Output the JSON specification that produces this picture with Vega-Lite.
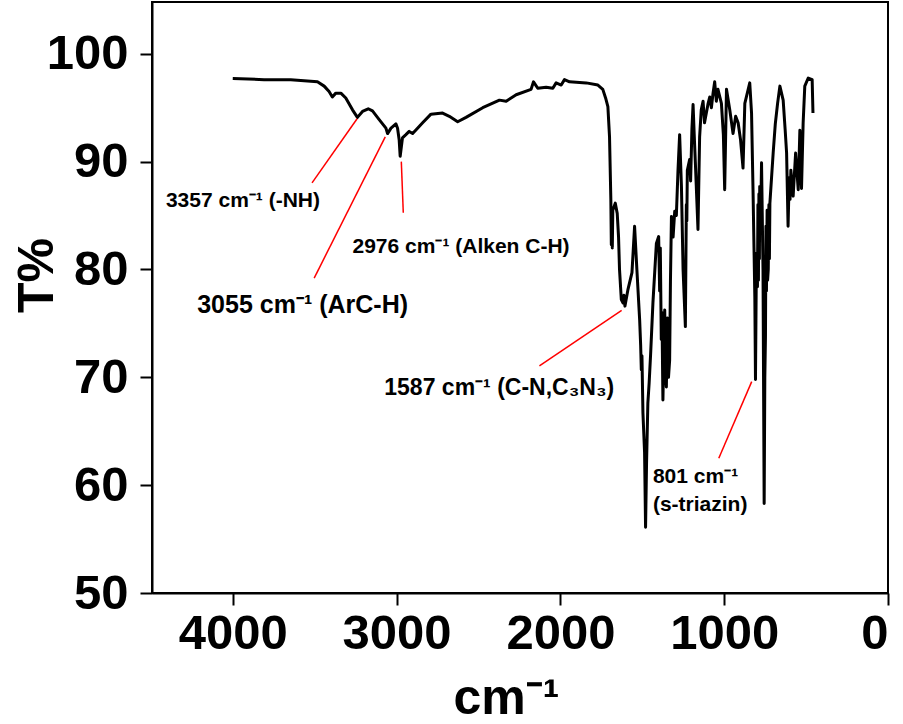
{
  "$schema": "https://vega.github.io/schema/vega-lite/v6.json",
  "width": 736,
  "height": 591,
  "autosize": {"type": "none"},
  "padding": {"left": 152, "top": 2, "right": 15, "bottom": 131},
  "background": "white",
  "config": {
    "view": {"stroke": "black", "strokeWidth": 2},
    "axis": {
      "grid": false,
      "domainColor": "black",
      "domainWidth": 2,
      "tickColor": "black",
      "tickWidth": 2,
      "tickSize": 12,
      "labelFont": "Liberation Sans",
      "labelFontWeight": "bold",
      "labelFontSize": 49,
      "labelColor": "black",
      "titleFont": "Liberation Sans",
      "titleFontWeight": "bold",
      "titleFontSize": 50,
      "titleColor": "black"
    }
  },
  "datasets": {
    "spectrum": [
      {"wn": 4000, "T": 97.7}, {"wn": 3809, "T": 97.6}, {"wn": 3646, "T": 97.6}, {"wn": 3483, "T": 97.4},
      {"wn": 3442, "T": 97.0}, {"wn": 3412, "T": 96.5}, {"wn": 3392, "T": 96.0}, {"wn": 3371, "T": 96.35},
      {"wn": 3340, "T": 96.35}, {"wn": 3310, "T": 95.9}, {"wn": 3269, "T": 94.8}, {"wn": 3239, "T": 94.1},
      {"wn": 3208, "T": 94.65}, {"wn": 3173, "T": 94.9}, {"wn": 3147, "T": 94.7}, {"wn": 3106, "T": 93.9},
      {"wn": 3065, "T": 93.1}, {"wn": 3055, "T": 92.6}, {"wn": 3034, "T": 93.1}, {"wn": 3004, "T": 93.5},
      {"wn": 2994, "T": 93.1}, {"wn": 2984, "T": 92.0}, {"wn": 2978, "T": 90.5}, {"wn": 2964, "T": 92.2},
      {"wn": 2943, "T": 92.5}, {"wn": 2923, "T": 92.8}, {"wn": 2902, "T": 92.6}, {"wn": 2872, "T": 93.1},
      {"wn": 2841, "T": 93.6}, {"wn": 2790, "T": 94.4}, {"wn": 2719, "T": 94.5}, {"wn": 2678, "T": 94.2},
      {"wn": 2627, "T": 93.7}, {"wn": 2576, "T": 94.1}, {"wn": 2474, "T": 95.0}, {"wn": 2372, "T": 95.7},
      {"wn": 2331, "T": 95.6}, {"wn": 2270, "T": 96.2}, {"wn": 2179, "T": 96.7}, {"wn": 2164, "T": 97.4},
      {"wn": 2138, "T": 96.8}, {"wn": 2087, "T": 96.9}, {"wn": 2046, "T": 96.8}, {"wn": 2026, "T": 97.3},
      {"wn": 1995, "T": 97.1}, {"wn": 1975, "T": 97.6}, {"wn": 1944, "T": 97.4}, {"wn": 1842, "T": 97.3},
      {"wn": 1771, "T": 97.1}, {"wn": 1741, "T": 96.7}, {"wn": 1724, "T": 95.9}, {"wn": 1710, "T": 95.1},
      {"wn": 1700, "T": 92.3}, {"wn": 1692, "T": 86.5}, {"wn": 1689, "T": 82.3}, {"wn": 1686, "T": 85.0},
      {"wn": 1683, "T": 82.0}, {"wn": 1680, "T": 85.5},
      {"wn": 1665, "T": 86.15}, {"wn": 1653, "T": 85.2}, {"wn": 1645, "T": 83.05}, {"wn": 1639, "T": 80.0},
      {"wn": 1628, "T": 77.2}, {"wn": 1618, "T": 76.9}, {"wn": 1612, "T": 77.6}, {"wn": 1606, "T": 76.6},
      {"wn": 1588, "T": 78.1}, {"wn": 1563, "T": 79.7},
      {"wn": 1547, "T": 84.0}, {"wn": 1533, "T": 80.0}, {"wn": 1516, "T": 75.3}, {"wn": 1510, "T": 73.0},
      {"wn": 1506, "T": 70.7}, {"wn": 1502, "T": 72.0},
      {"wn": 1496, "T": 66.7}, {"wn": 1490, "T": 64.5}, {"wn": 1486, "T": 63.0}, {"wn": 1480, "T": 56.1},
      {"wn": 1474, "T": 62.0}, {"wn": 1466, "T": 67.6},
      {"wn": 1458, "T": 69.5}, {"wn": 1449, "T": 72.2}, {"wn": 1435, "T": 76.9}, {"wn": 1414, "T": 82.4},
      {"wn": 1400, "T": 83.05}, {"wn": 1394, "T": 78.0}, {"wn": 1390, "T": 82.0}, {"wn": 1384, "T": 73.5},
      {"wn": 1380, "T": 76.0}, {"wn": 1374, "T": 67.9}, {"wn": 1368, "T": 73.0}, {"wn": 1363, "T": 76.25},
      {"wn": 1358, "T": 70.5}, {"wn": 1353, "T": 69.1}, {"wn": 1346, "T": 75.5}, {"wn": 1340, "T": 70.0},
      {"wn": 1333, "T": 71.6}, {"wn": 1328, "T": 79.0}, {"wn": 1322, "T": 84.9}, {"wn": 1312, "T": 83.0},
      {"wn": 1302, "T": 85.4}, {"wn": 1292, "T": 85.0}, {"wn": 1282, "T": 89.2},
      {"wn": 1272, "T": 92.5}, {"wn": 1261, "T": 87.7}, {"wn": 1251, "T": 80.0}, {"wn": 1237, "T": 74.7},
      {"wn": 1231, "T": 86.0}, {"wn": 1228, "T": 84.5},
      {"wn": 1225, "T": 89.2}, {"wn": 1211, "T": 90.2}, {"wn": 1205, "T": 88.2}, {"wn": 1197, "T": 93.0},
      {"wn": 1190, "T": 95.3}, {"wn": 1183, "T": 92.5}, {"wn": 1176, "T": 89.9},
      {"wn": 1160, "T": 83.7}, {"wn": 1150, "T": 92.3}, {"wn": 1140, "T": 94.8}, {"wn": 1129, "T": 95.6},
      {"wn": 1120, "T": 93.6}, {"wn": 1109, "T": 94.5},
      {"wn": 1098, "T": 95.4}, {"wn": 1088, "T": 96.0}, {"wn": 1078, "T": 95.0}, {"wn": 1068, "T": 96.35},
      {"wn": 1058, "T": 97.4}, {"wn": 1048, "T": 95.6}, {"wn": 1038, "T": 96.7},
      {"wn": 1017, "T": 95.4}, {"wn": 1005, "T": 92.5}, {"wn": 997, "T": 87.4}, {"wn": 986, "T": 96.7}, {"wn": 966, "T": 94.8},
      {"wn": 946, "T": 92.6}, {"wn": 930, "T": 94.2}, {"wn": 915, "T": 93.6}, {"wn": 900, "T": 92.0},
      {"wn": 885, "T": 89.4}, {"wn": 874, "T": 95.4},
      {"wn": 844, "T": 97.3}, {"wn": 833, "T": 94.5}, {"wn": 824, "T": 87.4}, {"wn": 818, "T": 82.0},
      {"wn": 813, "T": 77.5},
      {"wn": 809, "T": 69.8}, {"wn": 803, "T": 81.5}, {"wn": 797, "T": 78.4}, {"wn": 794, "T": 86.0},
      {"wn": 791, "T": 79.0}, {"wn": 788, "T": 87.0}, {"wn": 785, "T": 81.0}, {"wn": 783, "T": 87.7},
      {"wn": 778, "T": 84.0}, {"wn": 772, "T": 89.9},
      {"wn": 763, "T": 80.0}, {"wn": 756, "T": 58.3}, {"wn": 752, "T": 70.0}, {"wn": 748, "T": 73.8},
      {"wn": 745, "T": 84.0}, {"wn": 742, "T": 78.0}, {"wn": 738, "T": 85.5}, {"wn": 735, "T": 79.0},
      {"wn": 731, "T": 80.0}, {"wn": 727, "T": 86.0}, {"wn": 724, "T": 81.0},
      {"wn": 721, "T": 86.15}, {"wn": 711, "T": 88.5}, {"wn": 701, "T": 90.8}, {"wn": 688, "T": 93.5}, {"wn": 674, "T": 95.4},
      {"wn": 660, "T": 97.0}, {"wn": 640, "T": 95.7}, {"wn": 628, "T": 93.0}, {"wn": 619, "T": 90.8}, {"wn": 610, "T": 84.0},
      {"wn": 603, "T": 88.5}, {"wn": 598, "T": 86.5},
      {"wn": 593, "T": 89.2}, {"wn": 579, "T": 86.8}, {"wn": 564, "T": 90.8}, {"wn": 548, "T": 87.4},
      {"wn": 538, "T": 92.9}, {"wn": 528, "T": 87.5}, {"wn": 518, "T": 93.6}, {"wn": 508, "T": 97.0},
      {"wn": 487, "T": 97.75}, {"wn": 463, "T": 97.6}, {"wn": 458, "T": 94.5}
    ],
    "leaders": [
      {"peak": "3357", "x": 3241, "y": 93.97, "x2": 3516, "y2": 88.03},
      {"peak": "3055", "x": 3069, "y": 92.3, "x2": 3503, "y2": 79.2},
      {"peak": "2976", "x": 2971, "y": 90.0, "x2": 2959, "y2": 85.25},
      {"peak": "1587", "x": 1626, "y": 76.2, "x2": 2128, "y2": 71.06},
      {"peak": "801", "x": 832, "y": 69.6, "x2": 1033, "y2": 62.5}
    ],
    "labels": [
      {"peak": "3357", "x": 4408, "y": 85.83, "text": "3357 cm⁻¹ (-NH)"},
      {"peak": "2976", "x": 3269, "y": 81.5, "text": "2976 cm⁻¹ (Alken C-H)"},
      {"peak": "3055", "x": 4217, "y": 75.95, "text": "3055 cm⁻¹ (ArC-H)"},
      {"peak": "1587", "x": 3075, "y": 68.37, "text": "1587 cm⁻¹ (C-N,C₃N₃)"},
      {"peak": "801", "x": 1435, "y": 60.2, "text": "801 cm⁻¹"},
      {"peak": "801b", "x": 1435, "y": 57.6, "text": "(s-triazin)"}
    ]
  },
  "layer": [
    {
      "data": {"name": "spectrum"},
      "mark": {"type": "line", "color": "black", "strokeWidth": 3, "strokeJoin": "round"},
      "encoding": {
        "x": {
          "field": "wn", "type": "quantitative",
          "scale": {"domain": [0, 4493], "reverse": true, "nice": false, "zero": false},
          "axis": {
            "values": [4000, 3000, 2000, 1000, 0], "format": "d", "labelPadding": 4,
            "title": "cm⁻¹", "titleX": 354, "titleY": 120, "titleAlign": "center", "titleBaseline": "alphabetic"
          }
        },
        "y": {
          "field": "T", "type": "quantitative",
          "scale": {"domain": [50, 104.8], "nice": false, "zero": false},
          "axis": {
            "values": [50, 60, 70, 80, 90, 100], "labelPadding": 12,
            "title": "T%", "titleX": -100, "titleY": 273, "titleAlign": "center", "titleBaseline": "alphabetic", "titleAngle": -90
          }
        }
      }
    },
    {
      "data": {"name": "leaders"},
      "mark": {"type": "rule", "color": "#ff0000", "strokeWidth": 1.5},
      "encoding": {
        "x": {"field": "x", "type": "quantitative"},
        "x2": {"field": "x2"},
        "y": {"field": "y", "type": "quantitative"},
        "y2": {"field": "y2"}
      }
    },
    {
      "data": {"name": "labels"},
      "transform": [{"filter": "datum.peak == '3357' || datum.peak == '2976' || datum.peak == '801' || datum.peak == '801b'"}],
      "mark": {"type": "text", "font": "Liberation Sans", "fontWeight": "bold", "fontSize": 21, "align": "left", "baseline": "alphabetic", "color": "black"},
      "encoding": {
        "x": {"field": "x", "type": "quantitative"},
        "y": {"field": "y", "type": "quantitative"},
        "text": {"field": "text"}
      }
    },
    {
      "data": {"name": "labels"},
      "transform": [{"filter": "datum.peak == '3055'"}],
      "mark": {"type": "text", "font": "Liberation Sans", "fontWeight": "bold", "fontSize": 25, "align": "left", "baseline": "alphabetic", "color": "black"},
      "encoding": {
        "x": {"field": "x", "type": "quantitative"},
        "y": {"field": "y", "type": "quantitative"},
        "text": {"field": "text"}
      }
    },
    {
      "data": {"name": "labels"},
      "transform": [{"filter": "datum.peak == '1587'"}],
      "mark": {"type": "text", "font": "Liberation Sans", "fontWeight": "bold", "fontSize": 23, "align": "left", "baseline": "alphabetic", "color": "black"},
      "encoding": {
        "x": {"field": "x", "type": "quantitative"},
        "y": {"field": "y", "type": "quantitative"},
        "text": {"field": "text"}
      }
    }
  ]
}
